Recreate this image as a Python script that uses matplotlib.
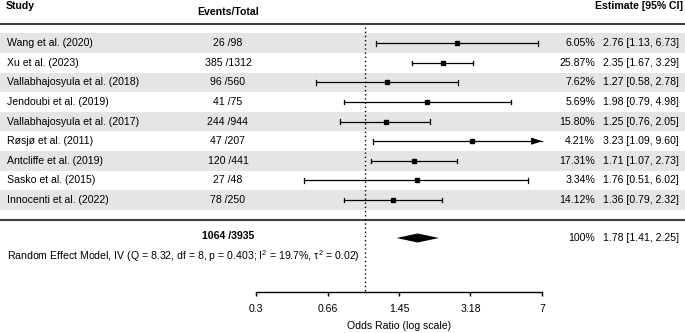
import matplotlib
matplotlib.use("Agg")
import matplotlib.pyplot as plt
import numpy as np

plt.rcParams['font.family'] = ['Liberation Sans', 'DejaVu Sans']
plt.rcParams['mathtext.fontset'] = 'custom'
plt.rcParams['mathtext.rm'] = 'Liberation Sans'
plt.rcParams['mathtext.it'] = 'Liberation Sans:italic'

studies = ["Wang et al. (2020)", "Xu et al. (2023)", "Vallabhajosyula et al. (2018)",
           "Jendoubi et al. (2019)", "Vallabhajosyula et al. (2017)", "Røsjø et al. (2011)",
           "Antcliffe et al. (2019)", "Sasko et al. (2015)", "Innocenti et al. (2022)"]
events = [26, 385, 96, 41, 244, 47, 120, 27, 78]
totals = [98, 1312, 560, 75, 944, 207, 441, 48, 250]
weights = [6.05, 25.87, 7.62, 5.69, 15.80, 4.21, 17.31, 3.34, 14.12]
est = [2.76, 2.35, 1.27, 1.98, 1.25, 3.23, 1.71, 1.76, 1.36]
lo = [1.13, 1.67, 0.58, 0.79, 0.76, 1.09, 1.07, 0.51, 0.79]
hi = [6.73, 3.29, 2.78, 4.98, 2.05, 9.60, 2.73, 6.02, 2.32]

sum_events, sum_total = 1064, 3935
sum_est, sum_lo, sum_hi = 1.78, 1.41, 2.25
xticks = [0.3, 0.66, 1.45, 3.18, 7]
xticklabels = ["0.3", "0.66", "1.45", "3.18", "7"]
het = "Random Effect Model, IV (Q = 8.32, df = 8, p = 0.403; I$^2$ = 19.7%, τ$^2$ = 0.02)"

W, H = 685, 333
fig = plt.figure(figsize=(W / 100, H / 100), dpi=100)
bg = fig.add_axes([0, 0, 1, 1])
bg.set_xlim(0, W)
bg.set_ylim(H, 0)
bg.axis('off')

fs = 7.6
row0, dy = 43.2, 19.6
rows = [row0 + i * dy for i in range(len(studies))]
sum_y = 238
band = '#e5e5e5'
linec = '#404040'

for i, y in enumerate(rows):
    if i % 2 == 0:
        bg.add_patch(plt.Rectangle((0, y - dy / 2), W, dy, color=band, lw=0, zorder=0))
    bg.text(7, y, studies[i], fontsize=fs, va='center', ha='left')
    bg.text(228, y, f"{events[i]} /{totals[i]}", fontsize=fs, va='center', ha='center')
    bg.text(595, y, f"{weights[i]:.2f}%", fontsize=fs, va='center', ha='right')
    bg.text(603, y, f"{est[i]:.2f} [{lo[i]:.2f}, {hi[i]:.2f}]", fontsize=fs, va='center', ha='left')

bg.plot([0, W], [24, 24], color=linec, lw=1.5, zorder=1)
bg.plot([0, W], [220, 220], color=linec, lw=1.5, zorder=1)

bg.text(6, 6, "Study", fontsize=fs, fontweight='bold', va='center', ha='left')
bg.text(228, 12, "Events/Total", fontsize=fs, fontweight='bold', va='center', ha='center')
bg.text(683, 6, "Estimate [95% CI]", fontsize=fs, fontweight='bold', va='center', ha='right')

bg.text(228, sum_y - 2, f"{sum_events} /{sum_total}", fontsize=fs, fontweight='bold', va='center', ha='center')
bg.text(595, sum_y, "100%", fontsize=fs, va='center', ha='right')
bg.text(603, sum_y, f"{sum_est:.2f} [{sum_lo:.2f}, {sum_hi:.2f}]", fontsize=fs, va='center', ha='left')
bg.text(7, 256, het, fontsize=fs, va='center', ha='left')

# forest axes
x0, x1 = 256, 542
fa = fig.add_axes([x0 / W, 0, (x1 - x0) / W, 1])
fa.patch.set_alpha(0)
fa.set_xscale('log')
fa.set_xlim(xticks[0], xticks[-1])
fa.set_ylim(H, 0)
for s in ['top', 'left', 'right']:
    fa.spines[s].set_visible(False)
fa.spines['bottom'].set_position(('data', 292))
fa.spines['bottom'].set_linewidth(1.0)
fa.set_yticks([])
fa.set_xticks(xticks)
fa.set_xticklabels(xticklabels, fontsize=fs)
fa.minorticks_off()
fa.xaxis.set_minor_locator(matplotlib.ticker.NullLocator())
fa.tick_params(axis='x', direction='out', length=3, width=1.0, pad=6)
fa.text(0.5, 326, "Odds Ratio (log scale)", fontsize=fs, ha='center', va='center',
        transform=matplotlib.transforms.blended_transform_factory(fa.transAxes, fa.transData))

fa.plot([1, 1], [27, 292], color='black', lw=1.0, ls=(0, (1, 2)), zorder=2)

xmax = xticks[-1]
for i, y in enumerate(rows):
    l, h = lo[i], hi[i]
    if h > xmax:
        fa.plot([l, xmax], [y, y], color='black', lw=0.9, zorder=3, clip_on=False)
        fa.annotate('', xy=(xmax, y), xytext=(xmax * 0.94, y),
                    arrowprops=dict(arrowstyle='-|>,head_length=0.6,head_width=0.2',
                                    color='black', lw=0.9, shrinkA=0, shrinkB=0))
        fa.plot([l, l], [y - 2.3, y + 2.3], color='black', lw=0.9, zorder=3)
    else:
        fa.plot([l, h], [y, y], color='black', lw=0.9, zorder=3)
        fa.plot([l, l], [y - 2.3, y + 2.3], color='black', lw=0.9, zorder=3)
        fa.plot([h, h], [y - 2.3, y + 2.3], color='black', lw=0.9, zorder=3)
    fa.plot([est[i]], [y], marker='s', color='black', markersize=3.3, zorder=4)

fa.fill([sum_lo, sum_est, sum_hi, sum_est], [sum_y, sum_y - 4.5, sum_y, sum_y + 4.5],
        color='black', lw=0, zorder=4)

fig.savefig("out.png", dpi=100)
